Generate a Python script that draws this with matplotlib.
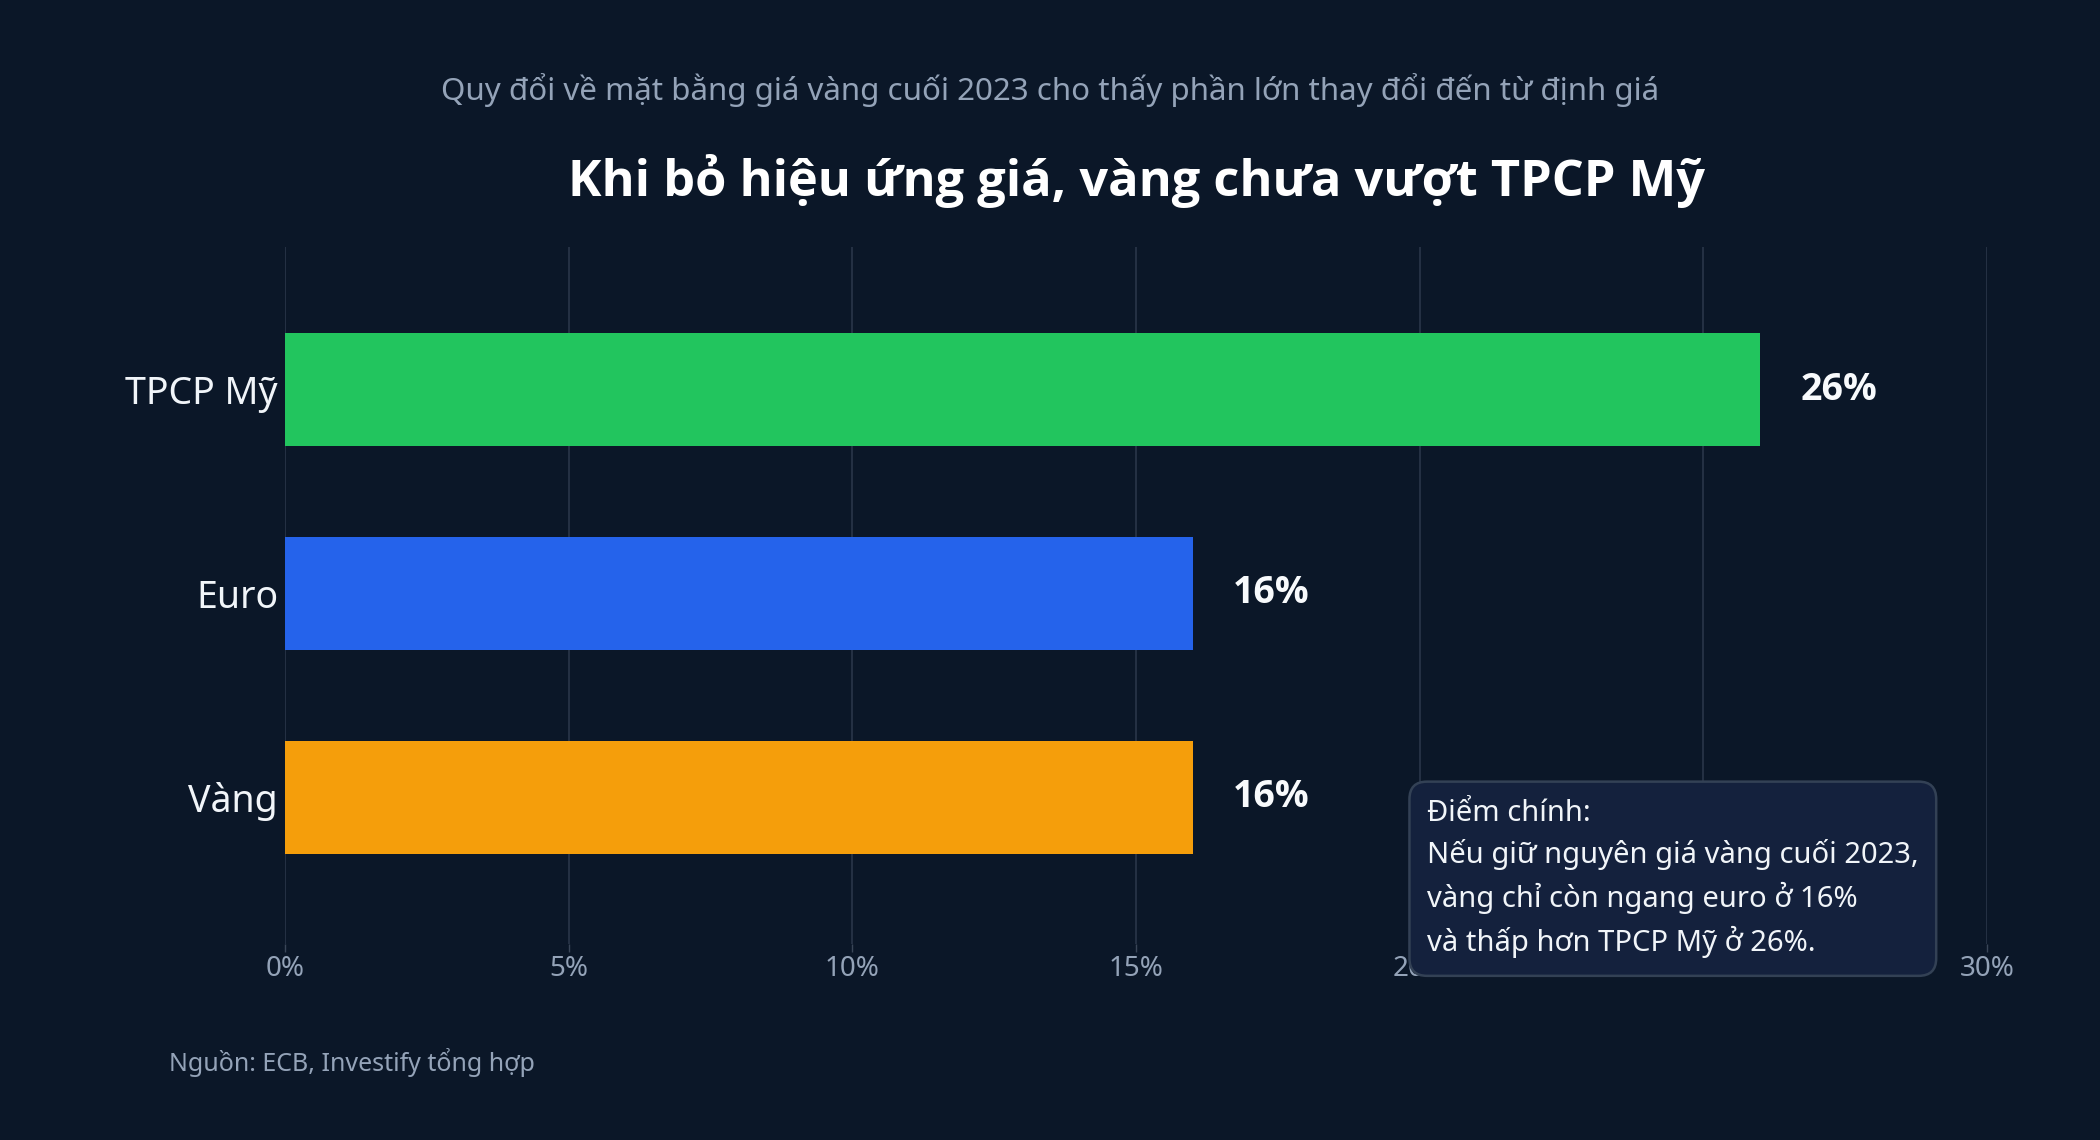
import matplotlib
matplotlib.use("Agg")
import matplotlib.pyplot as plt
from matplotlib.ticker import FuncFormatter

categories = ["TPCP Mỹ", "Euro", "Vàng"]
values = [26, 16, 16]
bar_colors = ["#22c55e", "#2563eb", "#f59e0b"]
xticks = [0, 5, 10, 15, 20, 25, 30]

title = "Khi bỏ hiệu ứng giá, vàng chưa vượt TPCP Mỹ"
subtitle = "Quy đổi về mặt bằng giá vàng cuối 2023 cho thấy phần lớn thay đổi đến từ định giá"
source = "Nguồn: ECB, Investify tổng hợp"
note = ("Điểm chính:\nNếu giữ nguyên giá vàng cuối 2023,\n"
        "vàng chỉ còn ngang euro ở 16%\nvà thấp hơn TPCP Mỹ ở 26%.")

BG = "#0b1728"
plt.rcParams["font.family"] = ["Noto Sans", "DejaVu Sans"]
BOLD = ["Open Sans", "Noto Sans", "DejaVu Sans"]

fig = plt.figure(figsize=(21, 11.4), dpi=100, facecolor=BG)
ax = fig.add_axes([0.1357, 0.1719, 0.8105, 0.6115])
ax.set_facecolor(BG)

ypos = list(range(len(categories)))
ax.barh(ypos, values, height=0.555, color=bar_colors, zorder=3)
for y, v in zip(ypos, values):
    ax.annotate(f"{v}%", xy=(v, y), xytext=(29, 0), textcoords="offset points",
                ha="left", va="center", color="#f8fafc", fontsize=27,
                fontweight="bold", family=BOLD)

ax.set_xlim(0, 30)
ax.set_ylim(2.72, -0.7)
ax.set_yticks(ypos)
ax.set_yticklabels(categories)
ax.set_xticks(xticks)
ax.xaxis.set_major_formatter(FuncFormatter(lambda v, p: f"{v:.0f}%"))
ax.tick_params(axis="y", length=0, pad=5, labelsize=27, labelcolor="#f1f5f9")
ax.tick_params(axis="x", length=6, width=1, color="#3a4658", pad=2,
               labelsize=20, labelcolor="#94a3b8")
ax.grid(axis="x", color="#2a3649", linewidth=1.2, zorder=0)
ax.set_axisbelow(True)
for s in ax.spines.values():
    s.set_visible(False)

fig.text(0.5, 0.921, subtitle, ha="center", va="center", color="#94a3b8",
         fontsize=22.5)
fig.text(0.541, 0.841, title, ha="center", va="center", color="#ffffff",
         fontsize=36.4, fontweight="bold", family=BOLD)
fig.text(0.0805, 0.0684, source, ha="left", va="center", color="#94a3b8",
         fontsize=18)

fig.text(0.6795, 0.299, note, ha="left", va="top", color="#f1f5f9",
         fontsize=21, linespacing=1.47, zorder=10,
         bbox=dict(boxstyle="round,pad=0.6,rounding_size=0.6",
                   facecolor="#14213d", edgecolor="#334155", linewidth=1.8))

fig.savefig("out.png", dpi=100, facecolor=BG)
